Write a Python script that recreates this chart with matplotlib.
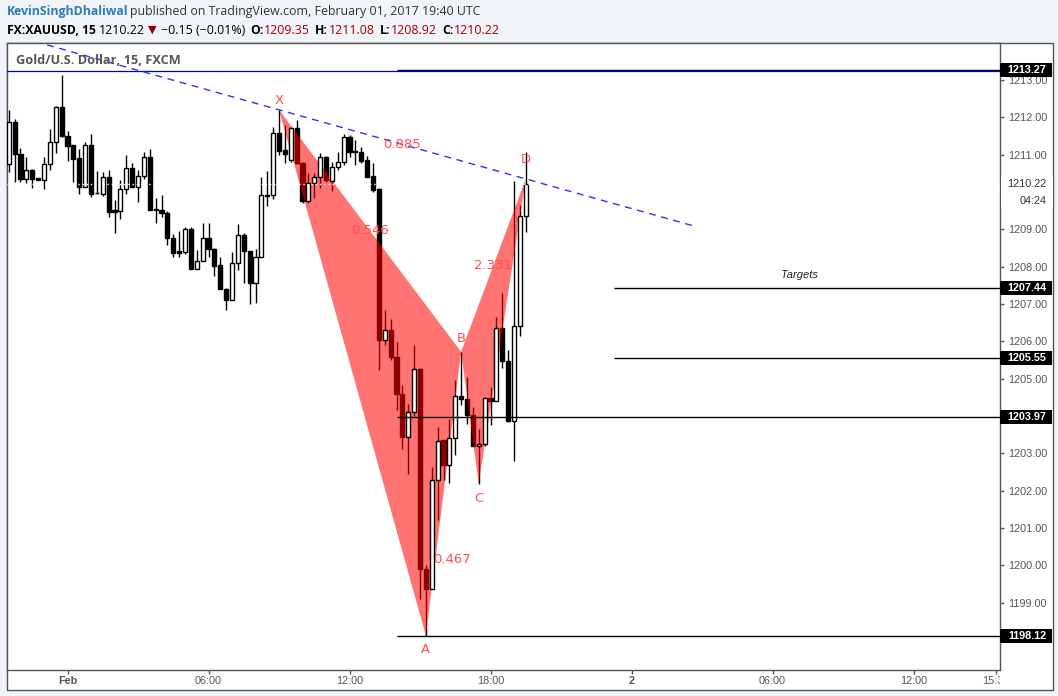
import numpy as np
import pandas as pd
import matplotlib
matplotlib.use("Agg")
import matplotlib.pyplot as plt
from matplotlib.patches import Rectangle
from matplotlib.transforms import blended_transform_factory, Bbox, TransformedBbox

plt.rcParams['font.family'] = ['Liberation Sans', 'DejaVu Sans']

# ---------------- data ----------------
bar_start = "2017-01-31 21:30"
opens = [1210.74, 1211.87, 1211.03, 1210.35, 1210.59, 1210.37, 1210.31, 1210.74, 1211.33, 1212.27,
         1211.50, 1211.26, 1210.90, 1210.14, 1211.25, 1209.96, 1209.95, 1210.39, 1209.51, 1209.50,
         1210.07, 1210.63, 1210.14, 1210.44, 1210.93, 1209.53, 1209.53, 1209.45, 1208.78, 1208.41,
         1208.40, 1209.02, 1207.95, 1208.16, 1208.76, 1208.47, 1208.04, 1207.39, 1207.12, 1208.11,
         1208.84, 1208.42, 1207.55, 1208.25, 1209.93, 1209.93, 1211.59, 1211.12, 1210.85, 1211.71,
         1210.77, 1209.77, 1210.23, 1210.39, 1210.93, 1210.30, 1210.66, 1210.81, 1211.46, 1211.08,
         1211.08, 1210.86, 1210.43, 1210.07, 1206.05, 1206.30, 1205.58, 1204.60, 1203.44, 1204.11,
         1205.27, 1199.91, 1199.37, 1202.29, 1203.35, 1202.68, 1203.42, 1204.54, 1204.45, 1204.04,
         1203.20, 1203.26, 1204.49, 1204.40, 1206.37, 1205.48, 1203.88, 1206.40, 1209.35]
highs = [1212.20, 1211.95, 1211.17, 1210.93, 1210.61, 1210.37, 1210.93, 1211.70, 1212.29, 1213.13,
         1211.63, 1211.26, 1211.14, 1211.35, 1211.55, 1210.57, 1210.53, 1210.59, 1209.78, 1210.32,
         1210.99, 1210.77, 1210.59, 1211.08, 1211.14, 1209.85, 1209.92, 1209.49, 1208.87, 1208.95,
         1209.07, 1209.07, 1208.44, 1209.16, 1209.16, 1208.49, 1208.25, 1207.44, 1208.40, 1209.14,
         1208.91, 1208.42, 1208.47, 1210.41, 1210.57, 1211.73, 1212.20, 1211.79, 1211.75, 1211.93,
         1210.80, 1210.50, 1210.50, 1211.05, 1210.97, 1210.79, 1211.06, 1211.55, 1211.53, 1211.39,
         1211.20, 1210.96, 1210.77, 1210.10, 1206.83, 1206.61, 1205.99, 1204.82, 1204.33, 1205.90,
         1205.30, 1200.00, 1202.63, 1203.72, 1203.35, 1203.91, 1204.96, 1205.72, 1205.05, 1204.24,
         1203.66, 1204.51, 1204.78, 1206.66, 1207.29, 1205.77, 1210.30, 1209.65, 1211.08]
lows = [1210.54, 1210.27, 1210.27, 1210.23, 1210.10, 1210.31, 1210.07, 1210.59, 1211.05, 1211.48,
        1210.84, 1210.27, 1209.94, 1210.14, 1209.87, 1209.94, 1209.89, 1209.32, 1208.91, 1209.28,
        1209.94, 1210.14, 1209.74, 1210.36, 1209.53, 1209.16, 1209.34, 1208.59, 1208.26, 1208.25,
        1208.34, 1207.95, 1207.95, 1208.16, 1208.26, 1207.75, 1207.39, 1206.85, 1207.12, 1207.90,
        1207.55, 1206.99, 1207.03, 1208.25, 1209.62, 1209.80, 1210.99, 1210.78, 1210.80, 1210.75,
        1209.70, 1209.70, 1209.83, 1210.10, 1210.28, 1210.04, 1210.60, 1210.72, 1210.95, 1210.71,
        1210.77, 1210.41, 1210.01, 1205.23, 1205.90, 1205.50, 1204.15, 1203.13, 1202.45, 1204.00,
        1199.10, 1198.12, 1199.37, 1201.22, 1202.30, 1202.20, 1202.95, 1204.29, 1203.80, 1203.20,
        1202.19, 1203.20, 1203.75, 1204.40, 1205.28, 1203.84, 1202.81, 1206.15, 1208.92]
closes = [1211.87, 1211.03, 1210.35, 1210.58, 1210.35, 1210.31, 1210.74, 1211.33, 1212.27, 1211.50,
          1211.24, 1210.88, 1210.14, 1211.25, 1209.95, 1209.96, 1210.39, 1209.47, 1209.47, 1210.07,
          1210.63, 1210.14, 1210.44, 1210.93, 1209.53, 1209.54, 1209.45, 1208.77, 1208.37, 1208.37,
          1209.02, 1207.95, 1208.16, 1208.76, 1208.47, 1208.02, 1207.39, 1207.12, 1208.11, 1208.84,
          1208.42, 1207.55, 1208.25, 1209.91, 1209.90, 1211.57, 1211.11, 1211.01, 1211.71, 1210.77,
          1209.75, 1210.23, 1210.39, 1210.93, 1210.32, 1210.66, 1210.81, 1211.46, 1211.08, 1211.06,
          1210.84, 1210.41, 1210.05, 1206.05, 1206.30, 1205.58, 1204.60, 1203.44, 1204.11, 1205.27,
          1199.91, 1199.37, 1202.29, 1203.33, 1202.68, 1203.42, 1204.54, 1204.45, 1204.02, 1203.20,
          1203.26, 1204.49, 1204.40, 1206.37, 1205.48, 1203.88, 1206.40, 1209.35, 1210.22]

pattern_labels = ["X", "A", "B", "C", "D"]
pattern_times = ["2017-02-01 09:00", "2017-02-01 15:15", "2017-02-01 16:45",
                 "2017-02-01 17:30", "2017-02-01 19:30"]
pattern_prices = [1212.20, 1198.12, 1205.72, 1202.19, 1210.35]
ratio_labels = ["0.885", "0.546", "2.331", "0.467"]
ratio_pairs = [(0, 4), (0, 2), (2, 4), (1, 3)]

trend_extend_times = ["2017-01-31 21:00", "2017-02-02 02:47"]

level_prices = [1213.27, 1207.44, 1205.55, 1203.97, 1198.12]
level_starts = ["2017-02-01 14:00", "2017-02-01 23:15", "2017-02-01 23:15",
                "2017-02-01 14:00", "2017-02-01 14:00"]
blue_line_price = 1213.24
current_price = 1210.22

xtick_times = ["2017-02-01 00:00", "2017-02-01 06:00", "2017-02-01 12:00", "2017-02-01 18:00",
               "2017-02-02 00:00", "2017-02-02 06:00", "2017-02-02 12:00", "2017-02-02 15:30"]
xtick_labels = ["Feb", "06:00", "12:00", "18:00", "2", "06:00", "12:00", "15:30"]
ytick_values = list(range(1199, 1214))
ytick_hidden = [1204, 1210]

# ---------------- helpers ----------------
t0 = pd.Timestamp("2017-02-01 00:00")
def hrs(ts):
    return (pd.Timestamp(ts) - t0).total_seconds() / 3600.0

times = pd.date_range(bar_start, periods=len(opens), freq="15min")
xs = np.array([(t - t0).total_seconds() / 3600.0 for t in times])
o = np.array(opens); h = np.array(highs); l = np.array(lows); c = np.array(closes)

W, H = 1058, 696
fig = plt.figure(figsize=(W / 100, H / 100), dpi=100)
fig.patch.set_facecolor('#F0F3F7')
def fx(px): return px / W
def fy(py): return 1 - py / H

# outer frame
fig.patches.append(Rectangle((fx(7), fy(690)), fx(1053) - fx(7), fy(43) - fy(690),
                             transform=fig.transFigure, facecolor='white',
                             edgecolor='#555555', lw=1, zorder=-1))

ax = fig.add_axes([fx(7), fy(670), fx(1000) - fx(7), fy(43) - fy(670)])
ax.set_facecolor('white')
ax.set_xlim((7 - 67.5) / 23.5, (1000 - 67.5) / 23.5)
ax.set_ylim(1197.20, 1213.99)
for s in ax.spines.values():
    s.set_color('#555555')
    s.set_linewidth(1)

# candles
up = c >= o
bw = 0.18
ax.vlines(xs, l, h, color='black', lw=1, zorder=2)
bottoms = np.minimum(o, c)
heights = np.maximum(np.abs(c - o), 0.025)
ax.bar(xs[~up], heights[~up], bottom=bottoms[~up], width=bw, color='black',
       edgecolor='black', lw=1, zorder=2)

# harmonic pattern
px_t = [hrs(t) for t in pattern_times]
ax.fill(px_t[0:3], pattern_prices[0:3], color='#FF0000', alpha=0.55, lw=0, zorder=3)
ax.fill(px_t[2:5], pattern_prices[2:5], color='#FF0000', alpha=0.55, lw=0, zorder=3)

ax.bar(xs[up], heights[up], bottom=bottoms[up], width=bw, color='white',
       edgecolor='black', lw=1, zorder=4)

red_txt = '#FF4F4F'
offsets = {"X": 9, "A": -14, "B": 13, "C": -15, "D": 19}
for lab, t, p in zip(pattern_labels, px_t, pattern_prices):
    ax.annotate(lab, (t, p), xytext=(0, offsets[lab] * 0.72), textcoords='offset points',
                ha='center', va='center', color=red_txt, fontsize=9.5,
                family='DejaVu Sans', zorder=8)
for lab, (i, j) in zip(ratio_labels, ratio_pairs):
    mt = (px_t[i] + px_t[j]) / 2
    mp = (pattern_prices[i] + pattern_prices[j]) / 2
    ax.text(mt, mp, lab, ha='center', va='center', color=red_txt, fontsize=9.5,
            family='DejaVu Sans', zorder=8)

# trend line through X and D
slope = (pattern_prices[4] - pattern_prices[0]) / (px_t[4] - px_t[0])
tx = np.array([hrs(t) for t in trend_extend_times])
ty = pattern_prices[0] + slope * (tx - px_t[0])
ax.plot(tx, ty, color='#3333EE', lw=1, dashes=(5, 4), zorder=6)

# horizontal levels
xr = ax.get_xlim()[1]
for p, st in zip(level_prices, level_starts):
    ax.hlines(p, hrs(st), xr, color='black', lw=1, zorder=5)
ax.axhline(blue_line_price, color='#0000CC', lw=0.9, zorder=5)
ax.axhline(current_price, color='white', lw=1, dashes=(1, 2), zorder=5)

ax.text((799 - 67.5) / 23.5, 1207.44 + 13 / 37.35, "Targets", style='italic',
        ha='center', va='center', fontsize=8, color='#222222', zorder=8)

# legend title
fig.text(fx(16), fy(61), "Gold/U.S. Dollar, 15, FXCM", fontsize=9.2, weight='bold',
         color='#555555', family='Open Sans', va='center', ha='left')

# y axis
ax.yaxis.tick_right()
ax.set_yticks(ytick_values)
ax.set_yticklabels(["" if v in ytick_hidden else f"{v:.2f}" for v in ytick_values])
ax.tick_params(axis='y', direction='out', length=3, width=1, color='#555555',
               labelsize=7.8, labelcolor='#555555', pad=3)
ax.tick_params(axis='x', direction='out', length=3, width=1, color='#555555')
ax.set_xticks([hrs(t) for t in xtick_times])
ax.set_xticklabels([])

bt = blended_transform_factory(ax.transAxes, ax.transData)
box_w = 52 / 993
for p in level_prices:
    ax.add_patch(Rectangle((1.0, p - 0.19), box_w, 0.38, transform=bt, clip_on=False,
                           facecolor='black', edgecolor='none', zorder=9))
    ax.text(1.0 + 27 / 993, p, f"{p:.2f}", transform=bt, ha='center', va='center',
            color='white', weight='bold', fontsize=7.8, clip_on=False, zorder=10)
ax.add_patch(Rectangle((1.0 + 1 / 993, current_price - 0.66), box_w, 0.88,
                       transform=bt, clip_on=False, facecolor='white', edgecolor='none', zorder=9))
ax.text(1.0 + 27 / 993, current_price, f"{current_price:.2f}", transform=bt, ha='center',
        va='center', color='#333333', fontsize=7.8, clip_on=False, zorder=10)
ax.text(1.0 + 47 / 993, current_price - 0.47, "04:24", transform=bt, ha='right',
        va='center', color='#333333', fontsize=7.8, clip_on=False, zorder=10)

# x tick labels (clipped at price axis)
xbt = blended_transform_factory(ax.transData, fig.transFigure)
clipbox = TransformedBbox(Bbox.from_extents(0, 0, fx(1000), 1), fig.transFigure)
for t, lab in zip(xtick_times, xtick_labels):
    bold = lab in ("Feb", "2")
    tt = fig.text(hrs(t), fy(681), lab, transform=xbt, ha='center', va='center',
                  fontsize=7.8, color='#555555', weight='bold' if bold else 'normal')
    tt.set_clip_box(clipbox)
    tt.set_clip_on(True)

# header
hdr_font = 'Open Sans'
fig.text(fx(7), fy(12), "KevinSinghDhaliwal", fontsize=8.8, weight='bold', color='#2E7DB8',
         family=hdr_font, va='center')
fig.text(fx(130), fy(12), "published on TradingView.com, February 01, 2017 19:40 UTC",
         fontsize=8.9, color='#333333', family=hdr_font, va='center')
dark_red = '#A30000'
parts = [(7, "FX:XAUUSD, 15", 'bold', 'black'),
         (99, "1210.22", 'normal', 'black'),
         (161, "\u22120.15 (\u22120.01%)", 'normal', 'black'),
         (250, "O:", 'bold', 'black'),
         (264, "1209.35", 'normal', dark_red),
         (315, "H:", 'bold', 'black'),
         (329, "1211.08", 'normal', dark_red),
         (380, "L:", 'bold', 'black'),
         (391, "1208.92", 'normal', dark_red),
         (442, "C:", 'bold', 'black'),
         (454, "1210.22", 'normal', dark_red)]
for xp, s, wgt, col in parts:
    fs = 8.7 if wgt == 'bold' else 8.9
    fig.text(fx(xp), fy(30), s, fontsize=fs, weight=wgt, color=col, family=hdr_font, va='center')
fig.text(fx(152.5), fy(30), "\u25BC", fontsize=8, color='#8B0000', family='DejaVu Sans',
         va='center', ha='center')

fig.savefig("out.png", dpi=100, facecolor=fig.get_facecolor())
